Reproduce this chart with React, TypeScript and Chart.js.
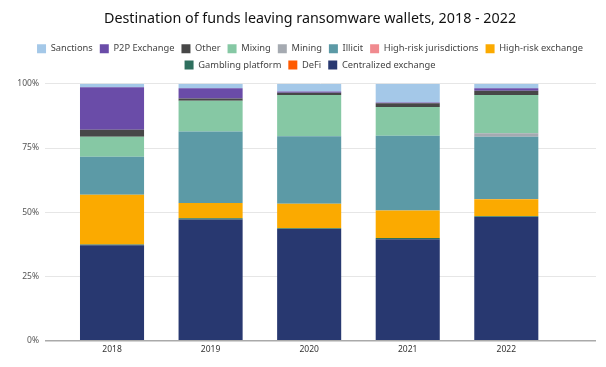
import React, { useEffect, useRef } from "react";
import { Chart, registerables } from "chart.js";

Chart.register(...registerables);

const years = ["2018", "2019", "2020", "2021", "2022"];
const yTicks = [0, 25, 50, 75, 100];

const centralized = [37.2, 47.2, 43.5, 39.5, 48.2];
const defi = [0, 0, 0, 0, 0];
const gambling = [0.3, 0.5, 0.3, 0.5, 0.3];
const highRiskExchange = [19.3, 5.9, 9.5, 10.7, 6.6];
const highRiskJurisdictions = [0, 0, 0, 0, 0.1];
const illicit = [14.8, 27.8, 26.3, 29.1, 24.2];
const mining = [0, 0, 0, 0, 1.3];
const mixing = [7.8, 12.0, 16.0, 11.2, 14.9];
const other = [2.7, 0.9, 0.9, 1.4, 1.7];
const p2p = [16.5, 4.0, 0.5, 0.3, 1.0];
const sanctions = [1.4, 1.7, 3.0, 7.3, 1.7];

const seriesNames = [
  "Centralized exchange",
  "DeFi",
  "Gambling platform",
  "High-risk exchange",
  "High-risk jurisdictions",
  "Illicit",
  "Mining",
  "Mixing",
  "Other",
  "P2P Exchange",
  "Sanctions",
];
const seriesValues = [
  centralized,
  defi,
  gambling,
  highRiskExchange,
  highRiskJurisdictions,
  illicit,
  mining,
  mixing,
  other,
  p2p,
  sanctions,
];
const seriesColors = [
  "#283870",
  "#ff5a00",
  "#2e6f5e",
  "#fbaa00",
  "#f08a8f",
  "#5c9aa6",
  "#a5aab1",
  "#86c8a4",
  "#474747",
  "#6a4ca8",
  "#a4c8e8",
];

const FONT = "'Noto Sans', sans-serif";

const layoutTweaks = {
  id: "layoutTweaks",
  beforeInit(chart: any) {
    const lg = chart.legend;
    if (!lg) return;
    const orig = lg.fit;
    lg.fit = function () {
      orig.call(this);
      this.height += 4;
    };
  },
  afterLayout(chart: any) {
    const y = chart.scales.y;
    if (y) y._computeLabelArea = () => undefined;
  },
};

export default function App() {
  const ref = useRef<HTMLCanvasElement | null>(null);

  useEffect(() => {
    if (!ref.current) return;
    const chart = new Chart(ref.current, {
      type: "bar",
      data: {
        datasets: seriesNames.map((name, k) => ({
          label: name,
          data: seriesValues[k].map((v, i) => ({ x: i, y: v })),
          backgroundColor: seriesColors[k],
          borderWidth: 0,
          barPercentage: 0.65,
          categoryPercentage: 1,
        })),
      },
      plugins: [layoutTweaks],
      options: {
        animation: false,
        responsive: false,
        maintainAspectRatio: false,
        layout: { padding: { left: 24, right: 10, top: 6, bottom: 8 } },
        plugins: {
          title: {
            display: true,
            text: "Destination of funds leaving ransomware wallets, 2018 - 2022",
            color: "#111",
            font: { family: FONT, size: 14.3, weight: "normal" },
            padding: { top: 4, bottom: 10 },
          },
          legend: {
            reverse: true,
            labels: {
              boxWidth: 9,
              boxHeight: 9,
              padding: 7,
              color: "#444",
              font: { family: FONT, size: 9.3 },
            },
          },
          tooltip: { enabled: false },
        },
        scales: {
          x: {
            type: "linear",
            stacked: true,
            offset: false,
            min: -0.68,
            max: 4.91,
            afterBuildTicks: (s: any) => {
              s.ticks = years.map((_, i) => ({ value: i }));
            },
            ticks: {
              autoSkip: false,
              maxRotation: 0,
              padding: 4,
              color: "#333",
              font: { family: FONT, size: 8.5 },
              callback: (v: any) => years[v as number] ?? "",
            },
            grid: { display: false, drawTicks: false },
            border: { display: false },
          },
          y: {
            stacked: true,
            min: 0,
            max: 100,
            afterBuildTicks: (s: any) => {
              s.ticks = yTicks.map((v) => ({ value: v }));
            },
            afterFit: (s: any) => {
              s.width = 21;
            },
            ticks: {
              color: "#555",
              padding: 6,
              font: { family: FONT, size: 8.5 },
              callback: (v: any) => v + "%",
            },
            grid: {
              drawTicks: false,
              color: (c: any) => (c.tick && c.tick.value === 0 ? "#aaaaaa" : "#e6e6e6"),
              lineWidth: (c: any) => (c.tick && c.tick.value === 0 ? 1.5 : 1),
            },
            border: { display: false },
          },
        },
      },
    });
    return () => chart.destroy();
  }, []);

  return (
    <div style={{ position: "fixed", left: 0, top: 0, width: 606, height: 367, background: "#fff" }}>
      <canvas ref={ref} width={606} height={367} style={{ width: 606, height: 367 }} />
    </div>
  );
}
